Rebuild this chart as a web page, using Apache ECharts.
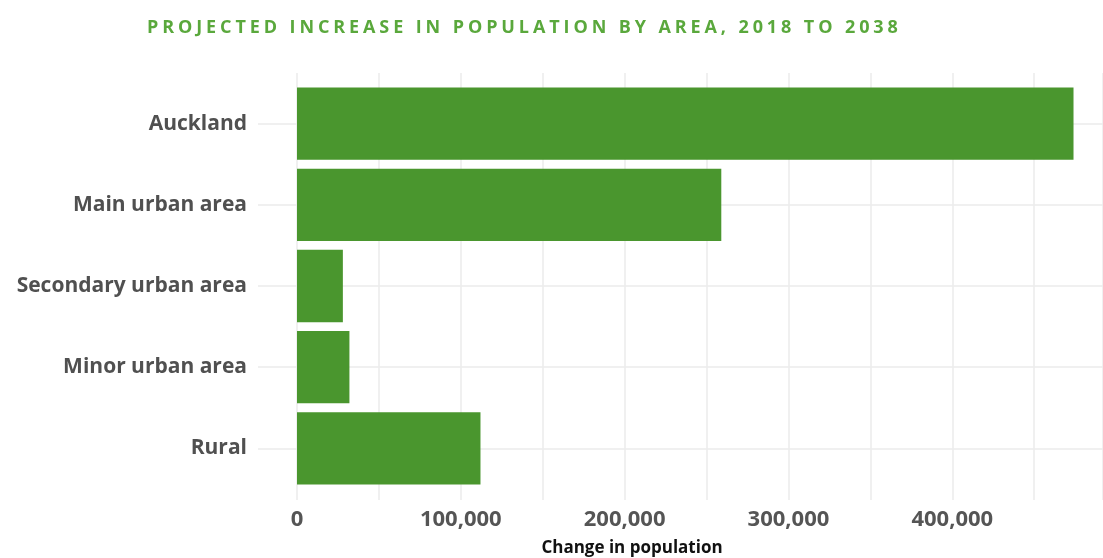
<!DOCTYPE html>
<html>
<head>
<meta charset="utf-8">
<script src="https://cdn.jsdelivr.net/npm/echarts@6/dist/echarts.min.js"></script>
<style>
  html, body { margin: 0; padding: 0; background: #fff; }
  #wrap { position: relative; width: 1103px; height: 558px; }
  #chart { width: 1103px; height: 558px; }
  /* title needs letter spacing, which echarts text can't do */
  #title {
    position: absolute; left: 147px; top: 14px;
    font-family: 'Open Sans', sans-serif; font-weight: 700; font-size: 18px;
    letter-spacing: 3.9px; color: #5aa83c; white-space: nowrap;
  }
</style>
</head>
<body>
<div id="wrap">
  <div id="chart"></div>
  <div id="title">PROJECTED INCREASE IN POPULATION BY AREA, 2018 TO 2038</div>
</div>
<script>
// data
const areas = ['Auckland', 'Main urban area', 'Secondary urban area', 'Minor urban area', 'Rural'];
const increase = [474000, 259000, 28000, 32000, 112000];
const xTicks = [0, 100000, 200000, 300000, 400000];

const xMax = 492000;
const gridColor = '#ebebeb';
const plotWidth = 806;

const chart = echarts.init(document.getElementById('chart'), null, { renderer: 'canvas' });

const option = {
  animation: false,
  title: {
    text: 'Change in population',
    left: 627,
    textAlign: 'center',
    top: 535,
    textStyle: {
      fontFamily: 'Open Sans',
      fontWeight: 'bold',
      fontSize: 17,
      color: '#111'
    }
  },
  grid: [
    // bars
    { left: 297, right: 0, top: 83, height: 406 },
    // vertical grid lines, a bit taller like ggplot
    { left: 297, right: 0, top: 73, height: 427 }
  ],
  xAxis: [{
    gridIndex: 0,
    type: 'value',
    min: 0,
    max: xMax,
    show: false
  }, {
    gridIndex: 1,
    type: 'value',
    min: 0,
    max: xMax,
    interval: 50000,
    axisLine: { show: false },
    axisTick: { show: false },
    splitLine: { show: true, lineStyle: { color: gridColor, width: 1.5 } },
    axisLabel: {
      margin: 9,
      fontFamily: 'Open Sans',
      fontWeight: 'bold',
      fontSize: 22,
      color: '#555',
      showMaxLabel: false,
      formatter: v => xTicks.includes(v) ? v.toLocaleString('en-US') : ''
    }
  }],
  yAxis: [{
    gridIndex: 0,
    type: 'category',
    data: areas,
    inverse: true,
    axisLine: { show: false },
    axisTick: {
      show: true,
      alignWithLabel: true,
      length: 39,
      lineStyle: { color: gridColor, width: 1.5 }
    },
    axisLabel: {
      margin: 50,
      fontFamily: 'Open Sans',
      fontWeight: 'bold',
      fontSize: 21,
      color: '#505050'
    }
  }, {
    // horizontal lines through the bar centres
    gridIndex: 0,
    type: 'category',
    data: areas,
    inverse: true,
    position: 'right',
    axisLine: { show: false },
    axisLabel: { show: false },
    axisTick: {
      show: true,
      inside: true,
      alignWithLabel: true,
      length: plotWidth,
      lineStyle: { color: gridColor, width: 1.5 }
    }
  }, {
    gridIndex: 1,
    type: 'value',
    min: 0,
    max: 1,
    show: false
  }],
  series: [{
    type: 'bar',
    xAxisIndex: 0,
    yAxisIndex: 0,
    data: increase,
    barCategoryGap: '11%',
    itemStyle: { color: '#4a962e' }
  }]
};

chart.setOption(option);
</script>
</body>
</html>
